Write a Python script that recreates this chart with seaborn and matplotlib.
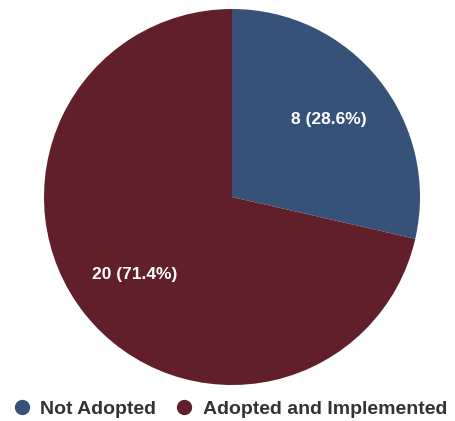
import matplotlib
matplotlib.use("Agg")
import matplotlib.pyplot as plt
from matplotlib.lines import Line2D
import seaborn as sns

# Policy status counts
categories = ["Not Adopted", "Adopted and Implemented"]
counts = [8, 20]
colors = ["#375278", "#611f2a"]

sns.set_theme(style="white")
plt.rcParams["font.family"] = ["Liberation Sans", "DejaVu Sans"]

W, H = 455, 421
fig = plt.figure(figsize=(W / 100, H / 100), dpi=100)
fig.patch.set_facecolor("white")

# Pie area: circle of radius 188 px centred at (232, 197)
cx, cy, r = 232, 197, 188
ax = fig.add_axes([(cx - r) / W, (H - cy - r) / H, 2 * r / W, 2 * r / H])

total = sum(counts)


def fmt(pct):
    n = int(round(pct * total / 100.0))
    return f"{n} ({pct:.1f}%)"


wedges, texts, autotexts = ax.pie(
    counts,
    colors=colors,
    startangle=90,
    counterclock=False,
    radius=1.0,
    autopct=fmt,
    pctdistance=0.66,
    wedgeprops=dict(linewidth=0),
    textprops=dict(color="white", fontsize=12.5, fontweight="bold"),
)
ax.set_xlim(-1, 1)
ax.set_ylim(-1, 1)
ax.set_aspect("equal")
ax.axis("off")

handles = [
    Line2D([0], [0], marker="o", linestyle="none", markersize=10,
           markerfacecolor=c, markeredgecolor=c)
    for c in colors
]
fig.legend(
    handles, categories,
    loc="center", bbox_to_anchor=(229.5 / W, 1 - 409 / H),
    ncol=2, frameon=False,
    prop=dict(size=14, weight="bold"),
    labelcolor="#333333",
    handletextpad=0.45, columnspacing=0.95, handlelength=1.0,
)

fig.savefig("out.png", dpi=100, facecolor="white")
